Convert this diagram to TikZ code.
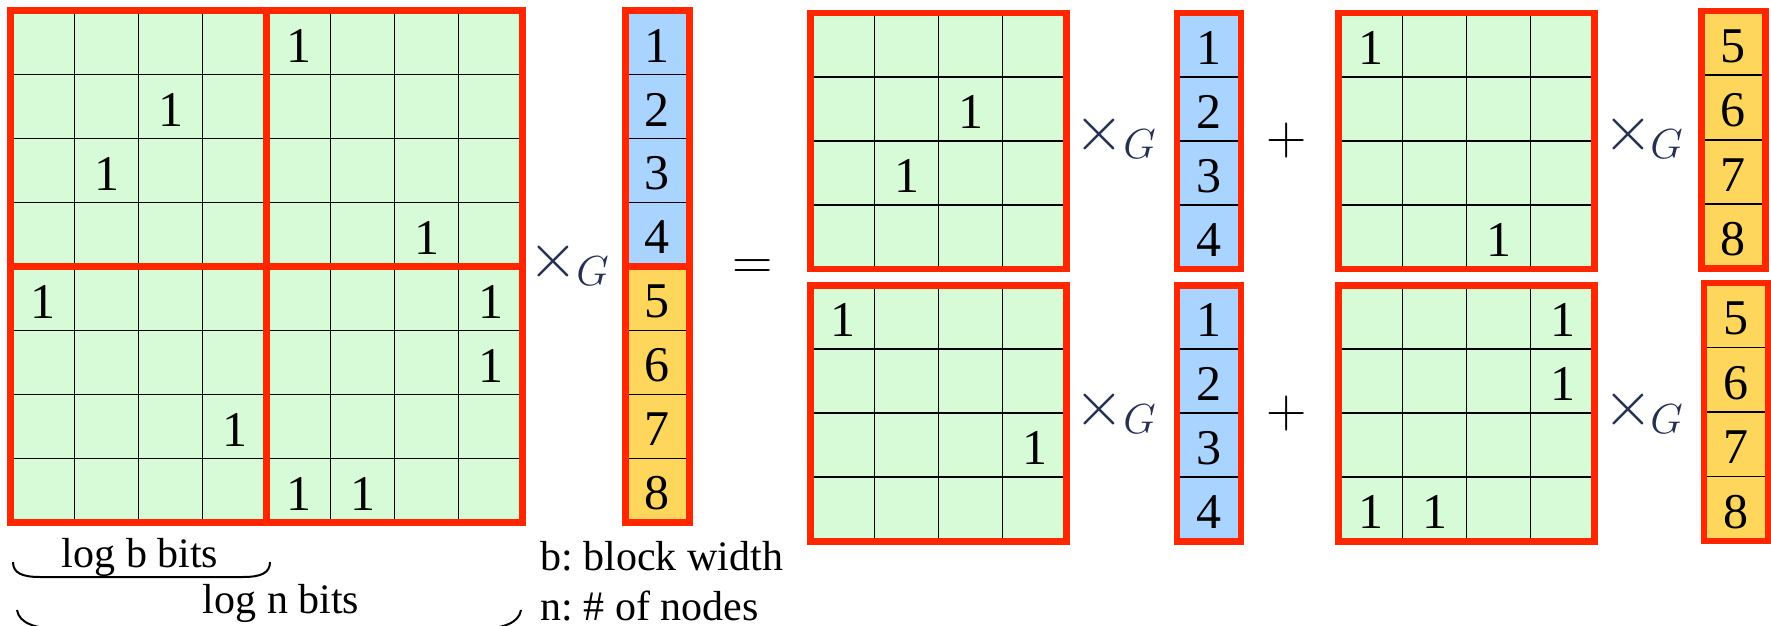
\RequirePackage{fix-cm}
\documentclass[tikz,border=0pt]{standalone}
\usepackage{fontspec}
\setmainfont{Liberation Serif}
\frenchspacing

\definecolor{cellgreen}{RGB}{214,251,214}
\definecolor{cellblue}{RGB}{168,212,255}
\definecolor{cellyellow}{RGB}{255,214,92}
\definecolor{framered}{RGB}{255,38,0}
\definecolor{opblue}{RGB}{38,48,82}

\tikzset{
  gridline/.style={draw=black, line width=0.9pt},
  blockframe/.style={draw=framered, line width=3.2pt},
  cellnum/.style={font=\fontsize{25}{27}\selectfont, inner sep=0pt, anchor=center},
  note/.style={font=\fontsize{21}{24}\selectfont, inner sep=0pt},
  opsym/.style={font=\fontsize{28}{30}\selectfont, inner sep=0pt, anchor=base},
  timessym/.style={font=\fontsize{32}{34}\selectfont, inner sep=0pt, anchor=center, text=opblue},
  gsym/.style={font=\fontsize{21}{24}\selectfont, inner sep=0pt, anchor=base west, text=opblue},
  brace/.style={draw=black, line width=1pt}
}

% 4x4 block of green cells (cell size 64)
\newcommand\matfill[2]{%
  \fill[cellgreen] (#1,#2) rectangle ++(256,256);
  \foreach \k in {1,2,3} {
    \draw[gridline] ({#1+64*\k},#2) -- ++(0,256);
    \draw[gridline] (#1,{#2+64*\k}) -- ++(256,0);
  }}
\newcommand\matframe[2]{\draw[blockframe] (#1,#2) rectangle ++(256,256);}
% column of four cells: x0, y0, cell height, fill colour
\newcommand\vecfill[4]{%
  \fill[#4] (#1,#2) rectangle ++(64,{4*#3});
  \foreach \k in {1,2,3} {\draw[gridline] (#1,{#2+#3*\k}) -- ++(64,0);}}
\newcommand\vecframe[3]{\draw[blockframe] (#1,#2) rectangle ++(64,{4*#3});}
% numbers inside a column: name prefix, x0, y0, cell height, first value
\newcommand\vecnums[5]{%
  \foreach \k in {0,1,2,3} {
    \pgfmathtruncatemacro\val{#5+\k}
    \node[cellnum] (#1\val) at ({#2+32},{#3+#4*\k+#4/2+3}) {\val};
  }}
% a "1" in cell (column, row) of a block: name, x0, y0, column, row
\newcommand\putone[5]{\node[cellnum] (#1) at ({#2+64*#4+32},{#3+64*#5+35}) {1};}
% the multiplication sign (centre) followed by its G (baseline)
\newcommand\timesG[5]{%
  \node[timessym] (#1x) at (#2,#3) {$\times$};
  \node[gsym] (#1g) at (#4,#5) {$G$};}

\begin{document}
\begin{tikzpicture}[x=0.5pt,y=-0.5pt]
\useasboundingbox (0,0) rectangle (1771,626);
\clip (0,0) rectangle (1771,626);

% ---------- full 8x8 matrix ----------
\fill[cellgreen] (10.5,10.5) rectangle ++(512,512);
\foreach \k in {1,...,7} {
  \draw[gridline] ({10.5+64*\k},10.5) -- ++(0,512);
  \draw[gridline] (10.5,{10.5+64*\k}) -- ++(512,0);
}
\matframe{10.5}{10.5}\matframe{266.5}{10.5}
\matframe{10.5}{266.5}\matframe{266.5}{266.5}
\foreach \c/\r [count=\n] in {4/0,2/1,1/2,6/3,0/4,7/4,7/5,3/6,4/7,5/7}
  {\putone{big\n}{10.5}{10.5}{\c}{\r}}

% full vector
\vecfill{625.3}{10.5}{64}{cellblue}
\vecfill{625.3}{266.5}{64}{cellyellow}
\vecframe{625.3}{10.5}{64}\vecframe{625.3}{266.5}{64}
\vecnums{fullv}{625.3}{10.5}{64}{1}
\vecnums{fullv}{625.3}{266.5}{64}{5}

\timesG{opfull}{553.5}{261}{576}{285}
\node[opsym] (eq) at (752.5,279) {$=$};

% ---------- upper left block ----------
\matfill{810.5}{13}\matframe{810.5}{13}
\putone{ul1}{810.5}{13}{2}{1}
\putone{ul2}{810.5}{13}{1}{2}
\timesG{opul}{1099.5}{134}{1123}{158}
\vecfill{1176.7}{13}{64}{cellblue}\vecframe{1176.7}{13}{64}
\vecnums{ulv}{1176.7}{13}{64}{1}
\node[opsym] (plustop) at (1287,154.5) {$+$};

% ---------- upper right block ----------
\matfill{1338.5}{13}\matframe{1338.5}{13}
\putone{ur1}{1338.5}{13}{0}{0}
\putone{ur2}{1338.5}{13}{2}{3}
\timesG{opur}{1628}{134}{1650}{158}
\vecfill{1701.3}{11}{64.4}{cellyellow}\vecframe{1701.3}{11}{64.4}
\vecnums{urv}{1701.3}{11}{64.4}{5}

% ---------- lower left block ----------
\matfill{810.5}{285.3}\matframe{810.5}{285.3}
\putone{ll1}{810.5}{285.3}{0}{0}
\putone{ll2}{810.5}{285.3}{3}{2}
\timesG{opll}{1099.5}{409}{1123}{433}
\vecfill{1176.7}{285.3}{64}{cellblue}\vecframe{1176.7}{285.3}{64}
\vecnums{llv}{1176.7}{285.3}{64}{1}
\node[opsym] (plusbot) at (1287,427) {$+$};

% ---------- lower right block ----------
\matfill{1338.5}{285.3}\matframe{1338.5}{285.3}
\putone{lr1}{1338.5}{285.3}{3}{0}
\putone{lr2}{1338.5}{285.3}{3}{1}
\putone{lr3}{1338.5}{285.3}{0}{3}
\putone{lr4}{1338.5}{285.3}{1}{3}
\timesG{oplr}{1628}{409}{1650}{433}
\vecfill{1704}{283}{64.5}{cellyellow}\vecframe{1704}{283}{64.5}
\vecnums{lrv}{1704}{283}{64.5}{5}

% ---------- bit-width braces and legend ----------
\node[note, anchor=base] (logb) at (140,567) {log b bits};
\draw[brace] (13,562) .. controls (13,573) and (22,577) .. (40,577)
  -- (243,577) .. controls (261,577) and (270,573) .. (270,562);
\node[note, anchor=base] (logn) at (281,613) {log n bits};
\draw[brace] (17,610) .. controls (19,623) and (35,629) .. (62,629)
  -- (476,629) .. controls (503,629) and (519,623) .. (521,610);
\node[note, anchor=base west] (legb) at (540,570.5) {b: block width};
\node[note, anchor=base west] (legn) at (540,620) {n: \# of nodes};
\end{tikzpicture}
\end{document}
